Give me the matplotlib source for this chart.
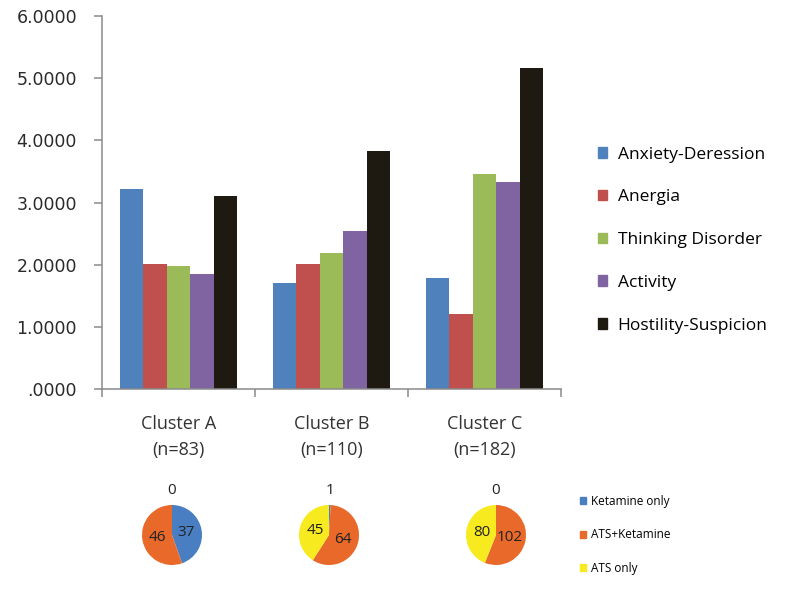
import matplotlib.pyplot as plt
from matplotlib.patches import Patch
import numpy as np

clusters = ["Cluster A\n(n=83)", "Cluster B\n(n=110)", "Cluster C\n(n=182)"]
factors = ["Anxiety-Deression", "Anergia", "Thinking Disorder", "Activity",
           "Hostility-Suspicion"]
anxiety = [3.22, 1.70, 1.78]
anergia = [2.01, 2.01, 1.21]
thinking = [1.98, 2.19, 3.46]
activity = [1.85, 2.54, 3.33]
hostility = [3.10, 3.83, 5.16]
bar_colors = ["#4F81BD", "#C0504D", "#9BBB59", "#8064A2", "#1E1A12"]

groups = ["Ketamine only", "ATS+Ketamine", "ATS only"]
pie_a = [37, 46, 0]
pie_b = [1, 64, 45]
pie_c = [0, 102, 80]
pie_colors = ["#4A7EC2", "#E8692A", "#F7EA1E"]

W, H = 800, 592
fig = plt.figure(figsize=(W / 100, H / 100), dpi=100)
fig.patch.set_facecolor("white")

# main bar chart
ax = fig.add_axes([102 / W, 1 - 389 / H, (561 - 102) / W, (389 - 16) / H])
series = [anxiety, anergia, thinking, activity, hostility]
x = np.arange(len(clusters))
bw = 0.154
for i, vals in enumerate(series):
    ax.bar(x + (i - 2) * bw, vals, bw, color=bar_colors[i], label=factors[i],
           linewidth=0)

ax.set_xlim(-0.5, 2.5)
ax.set_ylim(0, 6)
ax.set_yticks(np.arange(0, 7))
ax.set_yticklabels([".0000"] + ["%d.0000" % v for v in range(1, 7)])
ax.set_xticks([-0.5, 0.5, 1.5, 2.5])
ax.set_xticklabels([])
ax.set_xticks(x, minor=True)
ax.set_xticklabels(clusters, minor=True, fontsize=13, family="Open Sans",
                   color="#333333", linespacing=1.55)
ax.tick_params(axis="x", which="minor", length=0, pad=19)
ax.tick_params(axis="x", which="major", length=6, width=1.1, color="#8a8a8a",
               direction="out")
ax.tick_params(axis="y", length=6, width=1.1, color="#8a8a8a", pad=12,
               labelsize=12.5, labelcolor="#2a2a2a")
for s in ["top", "right"]:
    ax.spines[s].set_visible(False)
for s in ["left", "bottom"]:
    ax.spines[s].set_color("#8a8a8a")
    ax.spines[s].set_linewidth(1.1)

handles = [Patch(color=c) for c in bar_colors]
fig.legend(handles, factors, loc="upper left", bbox_to_anchor=(582 / W, 1 - 131 / H),
           frameon=False, prop={"family": "Open Sans", "size": 12.5},
           handlelength=0.55, handleheight=0.55, handletextpad=0.6,
           labelspacing=1.54)

# pies
centers = [172, 329, 496]
r = 30
for cx, vals in zip(centers, [pie_a, pie_b, pie_c]):
    pa = fig.add_axes([(cx - r) / W, 1 - (535 + r) / H, 2 * r / W, 2 * r / H])
    wedges, _ = pa.pie(vals, colors=pie_colors, startangle=90, counterclock=False,
                       wedgeprops={"linewidth": 0})
    pa.set_xlim(-1, 1)
    pa.set_ylim(-1, 1)
    pa.set_aspect("equal")
    pa.axis("off")
    for w, v in zip(wedges, vals):
        ang = np.deg2rad((w.theta1 + w.theta2) / 2)
        d = 1.5 if v <= 1 else 0.48
        pa.text(d * np.cos(ang), d * np.sin(ang), str(v), ha="center", va="center",
                fontsize=11, family="Open Sans", color="#222222")

handles2 = [Patch(color=c) for c in pie_colors]
fig.legend(handles2, groups, loc="upper left", bbox_to_anchor=(569 / W, 1 - 484 / H),
           frameon=False, prop={"family": "Open Sans", "size": 8.5},
           handlelength=0.55, handleheight=0.55, handletextpad=0.4,
           labelspacing=1.75)

fig.savefig("out.png", dpi=100, facecolor="white")
